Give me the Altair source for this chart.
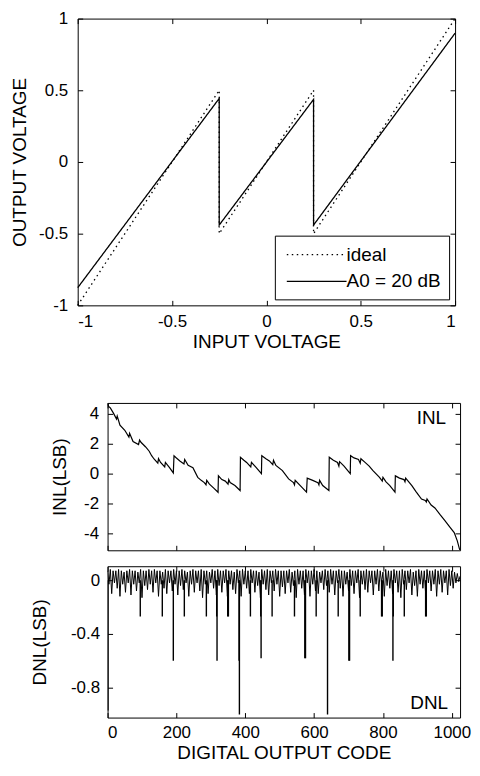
import altair as alt
import pandas as pd

FONT = "Liberation Sans"

# ---------------- Top panel: stage transfer characteristic ----------------
ideal_vin = [-1.0, -0.25, -0.25, 0.25, 0.25, 1.0]
ideal_vout = [-1.0, 0.5, -0.5, 0.5, -0.5, 1.0]
a0_vin = [-1.0, -0.25, -0.25, 0.25, 0.25, 1.0]
a0_vout = [-0.877, 0.443, -0.44, 0.436, -0.44, 0.898]
series_names = ["ideal", "A0 = 20 dB"]
volt_ticks = [-1, -0.5, 0, 0.5, 1]

# ---------------- INL (LSB) vs code ----------------
inl_code = [0, 3, 8, 17, 26, 28, 36, 50, 62, 64, 74, 90, 93, 97, 110, 121, 128, 135,
            146, 148, 154, 166, 168, 180, 191,
            193, 200, 210, 222, 224, 234, 248, 262, 272, 281, 286, 288, 296, 310, 321,
            322, 332, 342, 350, 352, 356, 370, 385,
            386, 396, 404, 416, 418, 432, 447,
            448, 460, 470, 480, 482, 489, 508, 526, 540, 543, 545, 564, 578,
            580, 596, 611, 614, 616, 625, 643,
            644, 656, 668, 672, 674, 687, 705,
            706, 716, 729, 734, 736, 748, 760, 771, 790, 798, 800, 809, 820, 835,
            836, 848, 861, 864, 866, 884, 896, 912, 923, 926, 928, 940, 951, 966,
            980, 995, 1007, 1016, 1023]
inl_value = [4.75, 4.5, 4.4, 4.05, 3.65, 3.85, 3.25, 2.9, 2.45, 2.7, 2.15, 1.95, 2.25, 2.1, 1.8, 1.5, 1.2, 0.98,
             0.7, 1.0, 0.75, 0.45, 0.75, 0.4, 0.05,
             1.2, 1.05, 0.85, 0.65, 0.95, 0.55, 0.4, -0.25, -0.45, -0.6, -0.75, -0.45, -0.7, -1.0, -1.25,
             -0.15, -0.4, -0.5, -0.7, -0.4, -0.6, -0.8, -1.13,
             1.1, 0.9, 0.75, 0.45, 0.75, 0.4, 0.0,
             1.2, 1.0, 0.85, 0.6, 0.9, 0.55, 0.2, -0.35, -0.6, -0.75, -0.45, -0.9, -1.24,
             -0.3, -0.45, -0.6, -0.75, -0.45, -0.8, -1.13,
             1.1, 0.9, 0.75, 0.5, 0.8, 0.5, 0.0,
             1.2, 1.05, 0.95, 0.7, 1.0, 0.75, 0.5, 0.2, -0.25, -0.5, -0.25, -0.55, -0.8, -1.24,
             -0.15, -0.3, -0.4, -0.55, -0.3, -0.8, -1.2, -1.7, -1.8, -1.9, -1.7, -2.1, -2.3, -2.75,
             -3.15, -3.6, -3.95, -4.5, -5.1]
inl_ticks = [4, 2, 0, -2, -4]
code_ticks = [0, 200, 400, 600, 800, 1000]

# ---------------- DNL (LSB) vs code ----------------
dnl_code = list(range(0, 1025, 4))
dnl_value = [
    0.07, -0.03, 0.08, -0.10, 0.07, -0.02, 0.07, -0.06, 0.08, -0.12, 0.07, -0.03, 0.06, -0.09, 0.07, -0.02,
    0.08, -0.11, 0.07, -0.03, 0.07, -0.08, 0.06, -0.02, 0.08, -0.13, 0.07, -0.04, 0.07, -0.07, 0.08, -0.03,
    0.07, -0.09, 0.08, -0.02, 0.07, -0.12, 0.07, -0.03, 0.06, -0.06, 0.08, -0.10, 0.07, -0.02, 0.07, -0.08,
    0.08, -0.03, 0.07, -0.11, 0.07, -0.04, 0.08, -0.07, 0.07, -0.02, 0.06, -0.12, 0.07, -0.03, 0.08, -0.09,
    0.07, -0.02, 0.07, -0.08, 0.08, -0.13, 0.07, -0.03, 0.07, -0.10, 0.06, -0.02, 0.08, -0.06, 0.07, -0.11,
    0.08, -0.04, 0.07, -0.09, 0.07, -0.02, 0.08, -0.12, 0.07, -0.03, 0.07, -0.07, 0.06, -0.10, 0.08, -0.02,
    0.07, -0.12, 0.08, -0.03, 0.07, -0.06, 0.07, -0.10, 0.08, -0.02, 0.07, -0.09, 0.07, -0.04, 0.06, -0.13,
    0.08, -0.03, 0.07, -0.07, 0.08, -0.11, 0.07, -0.02, 0.07, -0.08, 0.08, -0.03, 0.07, -0.12, 0.07, -0.05,
    0.07, -0.10, 0.07, -0.02, 0.08, -0.09, 0.06, -0.04, 0.07, -0.13, 0.08, -0.03, 0.07, -0.06, 0.07, -0.11,
    0.08, -0.02, 0.07, -0.12, 0.07, -0.03, 0.08, -0.08, 0.07, -0.10, 0.06, -0.02, 0.07, -0.07, 0.08, -0.04,
    0.07, -0.09, 0.08, -0.03, 0.07, -0.11, 0.07, -0.02, 0.08, -0.06, 0.07, -0.12, 0.07, -0.03, 0.06, -0.08,
    0.08, -0.04, 0.07, -0.10, 0.07, -0.02, 0.08, -0.13, 0.07, -0.03, 0.07, -0.07, 0.08, -0.09, 0.07, -0.02,
    0.07, -0.11, 0.07, -0.03, 0.08, -0.08, 0.07, -0.02, 0.06, -0.12, 0.08, -0.04, 0.07, -0.06, 0.07, -0.10,
    0.08, -0.02, 0.07, -0.09, 0.07, -0.13, 0.08, -0.03, 0.07, -0.07, 0.07, -0.02, 0.08, -0.11, 0.06, -0.04,
    0.07, -0.12, 0.08, -0.03, 0.07, -0.06, 0.07, -0.10, 0.08, -0.02, 0.07, -0.08, 0.07, -0.03, 0.08, -0.12,
    0.07, -0.03, 0.08, -0.09, 0.07, -0.02, 0.07, -0.11, 0.08, -0.04, 0.07, -0.06, 0.06, -0.02, 0.05, -0.01,
    0.03,
]
spike_code = [1, 95, 159, 191, 223, 287, 317, 318, 349, 351, 382, 383, 415, 445, 446,
              478, 543, 573, 575, 606, 639, 670, 701, 703, 734, 796, 798, 829, 830,
              862, 924, 926]
spike_value = [-0.97, -0.27, -0.27, -0.6, -0.27, -0.27, -0.27, -0.6, -0.27, -0.27, -0.6, -1.0, -0.27, -0.27, -0.58,
               -0.27, -0.27, -0.58, -0.58, -0.27, -1.0, -0.27, -0.6, -0.6, -0.27, -0.27, -0.27, -0.6, -0.27,
               -0.27, -0.27, -0.27]
dnl_ticks = [0, -0.2, -0.4, -0.6, -0.8]

# ---------------- sizes ----------------
W1, H1 = 379, 288
W2, H2 = 354, 148
H3 = 152
SHIFT = 30  # lower panels start this much to the right of the upper one

LABEL = dict(labelFont=FONT, labelFontSize=17, labelColor="black",
             titleFont=FONT, titleFontSize=19, titleFontWeight="normal", titleColor="black",
             ticks=False, tickSize=0, domain=False, grid=True, gridColor="black",
             gridOpacity=1, gridWidth=1, labelExpr="datum.value + ''")

# ---- top chart
rows = []
for i, (x, y) in enumerate(zip(ideal_vin, ideal_vout)):
    rows.append({"vin": x, "vout": y, "series": series_names[0], "k": i})
for i, (x, y) in enumerate(zip(a0_vin, a0_vout)):
    rows.append({"vin": x, "vout": y, "series": series_names[1], "k": i})
df_top = pd.DataFrame(rows)

top = alt.Chart(df_top).mark_line(color="black", strokeWidth=1.3).encode(
    x=alt.X("vin:Q", scale=alt.Scale(domain=[-1, 1], nice=False, zero=False),
            axis=alt.Axis(values=volt_ticks, title="INPUT VOLTAGE", labelPadding=8,
                          titlePadding=3, gridDash=[5, H1 - 10, 5, 2000], **LABEL)),
    y=alt.Y("vout:Q", scale=alt.Scale(domain=[-1, 1], nice=False, zero=False),
            axis=alt.Axis(values=volt_ticks, title="OUTPUT VOLTAGE", labelPadding=10,
                          titleX=-48, titleY=H1 / 2, minExtent=69,
                          gridDash=[5, W1 - 10, 5, 2000], **LABEL)),
    strokeDash=alt.StrokeDash("series:N",
                              scale=alt.Scale(domain=series_names, range=[[1.5, 3.5], [1, 0]]),
                              legend=alt.Legend(title=None, orient="none", legendX=198, legendY=H1 - 70,
                                                direction="vertical", strokeColor="black",
                                                fillColor="white", padding=8, cornerRadius=0,
                                                symbolType="M-3,0L3,0", symbolSize=400,
                                                symbolOffset=23,
                                                symbolStrokeWidth=1.3, symbolStrokeColor="black",
                                                labelFont=FONT, labelFontSize=19, labelColor="black",
                                                labelOffset=19, rowPadding=6)),
    order="k:Q",
).properties(width=W1, height=H1)

# ---- INL chart
df_inl = pd.DataFrame({"code": inl_code, "inl": inl_value})
inl_line = alt.Chart(df_inl).mark_line(color="black", strokeWidth=1.2, clip=True).encode(
    x=alt.X("code:Q", scale=alt.Scale(domain=[0, 1024], nice=False, zero=False),
            axis=alt.Axis(values=code_ticks, title=None, labels=False,
                          gridDash=[5, H2 - 10, 5, 2000], **LABEL)),
    y=alt.Y("inl:Q", scale=alt.Scale(domain=[-5.133, 4.733], nice=False, zero=False),
            axis=alt.Axis(values=inl_ticks, title="INL(LSB)", labelPadding=9,
                          titleX=-38, titleY=H2 / 2,
                          gridDash=[5, W2 - 10, 5, 2000], **LABEL)),
)
inl_txt = alt.Chart(pd.DataFrame({"t": ["INL"]})).mark_text(
    font=FONT, fontSize=19, color="black", align="right", baseline="alphabetic"
).encode(text="t:N", x=alt.value(W2 - 14), y=alt.value(21))
inl = alt.layer(inl_line, inl_txt).properties(width=W2, height=H2)

# ---- DNL chart
df_dnl = pd.DataFrame({"code": dnl_code, "dnl": dnl_value})
df_spk = pd.DataFrame({"code": spike_code, "dnl": spike_value})
xs = alt.Scale(domain=[0, 1024], nice=False, zero=False)
ys = alt.Scale(domain=[-1.022, 0.104], nice=False, zero=False)
dnl_line = alt.Chart(df_dnl).mark_line(color="black", strokeWidth=1.0, clip=True).encode(
    x=alt.X("code:Q", scale=xs,
            axis=alt.Axis(values=code_ticks, title="DIGITAL OUTPUT CODE", labelPadding=7,
                          titlePadding=3, gridDash=[5, H3 - 10, 5, 2000], **LABEL)),
    y=alt.Y("dnl:Q", scale=ys,
            axis=alt.Axis(values=dnl_ticks, title="DNL(LSB)", labelPadding=8,
                          titleX=-58, titleY=H3 / 2,
                          gridDash=[5, W2 - 10, 5, 2000], **LABEL)),
)
dnl_spk = alt.Chart(df_spk).mark_rule(color="black", strokeWidth=1.4, clip=True).encode(
    x=alt.X("code:Q", scale=xs),
    y=alt.Y("dnl:Q", scale=ys),
    y2=alt.datum(0),
)
dnl_txt = alt.Chart(pd.DataFrame({"t": ["DNL"]})).mark_text(
    font=FONT, fontSize=19, color="black", align="right", baseline="alphabetic"
).encode(text="t:N", x=alt.value(W2 - 12), y=alt.value(H3 - 9))
dnl = alt.layer(dnl_line, dnl_spk, dnl_txt).properties(width=W2, height=H3)

# invisible spacer that pushes the lower panels to the right
spacer = alt.Chart(pd.DataFrame({"s": [0]})).mark_point(opacity=0).encode(
    x=alt.value(0), y=alt.value(0)
).properties(width=SHIFT, height=1, view=alt.ViewBackground(stroke="transparent"))

lower = alt.hconcat(spacer, alt.vconcat(inl, dnl, spacing=14), spacing=0, bounds="flush")

chart = alt.vconcat(top, lower, spacing=47).properties(
    padding={"left": 0, "top": -1, "right": 0, "bottom": 0}
).configure_view(stroke="black", strokeWidth=1)

chart.save("out.html", embed_options={"renderer": "svg", "actions": False})
